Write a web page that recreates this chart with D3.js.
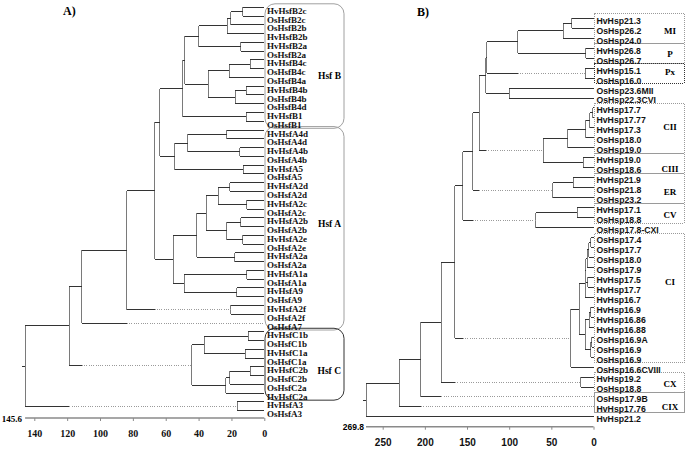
<!DOCTYPE html>
<html><head><meta charset="utf-8">
<script src="https://cdn.jsdelivr.net/npm/d3@7"></script>
<style>body{margin:0;background:#fff}svg{display:block}</style>
</head><body><svg id="c" width="689" height="449"></svg>
<script>
// ---------- Panel A: Hsf dendrogram (node = [height, child1, child2]) ----------
const hsfTree = [145.6,
  [118.7,
    [111.1,
      [83.7,
        [66.8,
          [63.5,
            [49.7,
              [48.3,
                [39.9,
                  [22.5, [20.5, [13.1, "HvHsfB2c", "OsHsfB2c"], "OsHsfB2b"], "HvHsfB2b"],
                  [14.4, "HvHsfB2a", "OsHsfB2a"]],
                [34.1,
                  [21.3, [8.7, "HvHsfB4c", "OsHsfB4c"], "OsHsfB4a"],
                  [17.8, [11.1, "HvHsfB4b", "OsHsfB4b"], "OsHsfB4d"]]],
              [11.1, "HvHsfB1", "OsHsfB1"]],
            [54.4,
              [46.6, [22.9, "HvHsfA4d", "OsHsfA4d"], [14.8, "HvHsfA4b", "OsHsfA4b"]],
              [12.8, "HvHsfA5", "OsHsfA5"]]],
          [55.4,
            [41,
              [35.3,
                [28, [20.9, "HvHsfA2d", "OsHsfA2d"], [10.7, "HvHsfA2c", "OsHsfA2c"]],
                [22.9, [14.4, "HvHsfA2b", "OsHsfA2b"], [13.1, "HvHsfA2e", "OsHsfA2e"]]],
              [18, "HvHsfA2a", "OsHsfA2a"]],
            [48.7, [10.7, "HvHsfA1a", "OsHsfA1a"], [16.8, "HvHsfA9", "OsHsfA9"]]]],
        [20.3, "HvHsfA2f", "OsHsfA2f"]],
      "OsHsfA7"],
    [44.2,
      [36.7, [9.7, "HvHsfC1b", "OsHsfC1b"], [11.7, "HvHsfC1a", "OsHsfC1a"]],
      [23.5, [20.9, [8.7, "HvHsfC2b", "OsHsfC2b"], "OsHsfC2a"], "HvHsfC2a"]]],
  [16.4, "HvHsfA3", "OsHsfA3"]];
// branches drawn dotted beyond the sibling's height: [first leaf, last leaf]
const hsfDotted = [["HvHsfA2f", "OsHsfA2f"], ["OsHsfA7", "OsHsfA7"], ["HvHsfC1b", "HvHsfC2a"], ["HvHsfA3", "OsHsfA3"]];
// groups: [label, first leaf index, last leaf index, label row]
const hsfGroups = [["Hsf B", 0, 13, 7.45], ["Hsf A", 14, 36, 24.3], ["Hsf C", 37, 44, 41.1]];
const hsfTicks = [0, 20, 40, 60, 80, 100, 120, 140];
const hsfMax = 145.6;

// ---------- Panel B: Hsp dendrogram ----------
const hspTree = [269.8,
  [230.4,
    [204.6,
      [180.5,
        [164.3,
          [155.2,
            [143.3,
              [135.5,
                [127.5,
                  [126.8,
                    [89.9,
                      [35.8, [25.9, "HvHsp21.3", "OsHsp26.2"], "OsHsp24.0"],
                      [9.3, "HvHsp26.8", "OsHsp26.7"]],
                    [10, "HvHsp15.1", "OsHsp16.0"]],
                  [99.9, "OsHsp23.6MII", "OsHsp22.3CVI"]],
                [59.5,
                  [30.6, [9.3, [4.2, [1.0, "HvHsp17.7", "HvHsp17.77"], "HvHsp17.3"], "OsHsp18.0"], "OsHsp19.0"],
                  [12.1, "HvHsp19.0", "OsHsp18.6"]]],
              [48.4, [24, "HvHsp21.9", "OsHsp21.8"], "OsHsp23.2"]],
            [68.2, [19.2, "HvHsp17.1", "OsHsp18.8"], "OsHsp17.8-CXI"]],
          [26.7,
            [16.8,
              [10, [9, [7.5, [5.5, [3, "OsHsp17.4", "OsHsp17.7"], "OsHsp18.0"], "OsHsp17.9"], [6.9, "HvHsp17.5", "HvHsp17.7"]], "HvHsp16.7"],
              [9.5, [5, [3.5, "HvHsp16.9", "HvHsp16.86"], "HvHsp16.88"], [3, [2, "OsHsp16.9A", "OsHsp16.9"], "OsHsp16.9"]]],
            "OsHsp16.6CVIII"]],
        [15.2, "HvHsp19.2", "OsHsp18.8"]],
      "OsHsp17.9B"],
    "HvHsp17.76"],
  "HvHsp21.2"];
const hspDotted = [["HvHsp15.1", "OsHsp16.0"], ["HvHsp17.7", "OsHsp18.6"], ["HvHsp21.9", "OsHsp23.2"],
  ["HvHsp17.1", "OsHsp17.8-CXI"], ["OsHsp17.4", "OsHsp16.6CVIII"], ["HvHsp19.2", "OsHsp18.8"],
  ["OsHsp17.9B", "OsHsp17.9B"], ["HvHsp17.76", "HvHsp17.76"]];
const hspGroups = [["MI", 0, 2, 1], ["P", 3, 4, 3.3], ["Px", 5, 6, 5.1], ["CII", 9, 13, 10.7], ["CIII", 14, 15, 14.9],
  ["ER", 16, 18, 17.2], ["CV", 19, 20, 19.5], ["CI", 22, 34, 26.2], ["CX", 36, 37, 36.4], ["CIX", 38, 39, 38.75]];
const hspTicks = [0, 50, 100, 150, 200, 250];
const hspMax = 269.8;

const svg = d3.select("#c");
const SERIF = "'Liberation Serif','Times New Roman',serif";
const SANS = "'Liberation Sans',Arial,sans-serif";

function layout(tree, x, y) {
  const root = d3.hierarchy(tree, d => Array.isArray(d) ? d.slice(1) : null);
  root.leaves().forEach((l, i) => { l.idx = i; });
  root.eachAfter(d => {
    if (d.children) {
      d.h = d.data[0];
      const a = d.children[0], b = d.children[d.children.length - 1];
      d.py = (a.py + b.py) / 2;
      d.fn = a.fn; d.ln = b.ln;
    } else {
      d.h = 0; d.py = y(d.idx); d.fn = d.ln = d.data;
    }
    d.px = x(d.h);
  });
  return root;
}

function drawTree(g, root, x, dotted) {
  const segs = [];
  const isDot = d => dotted.some(p => p[0] === d.fn && p[1] === d.ln);
  root.each(d => {
    if (d.children) {
      const a = d.children[0], b = d.children[d.children.length - 1];
      segs.push({x1: d.px, y1: a.py, x2: d.px, y2: b.py, t: "v"});
    }
    if (d.parent) {
      const p = d.parent;
      if (isDot(d)) {
        const sib = p.children.find(c => c !== d);
        segs.push({x1: p.px, y1: d.py, x2: sib.px, y2: d.py, t: "h"});
        segs.push({x1: sib.px, y1: d.py, x2: d.px, y2: d.py, t: "d"});
      } else {
        segs.push({x1: p.px, y1: d.py, x2: d.px, y2: d.py, t: "h"});
      }
    }
  });
  segs.push({x1: root.px - 3, y1: root.py, x2: root.px, y2: root.py, t: "h"});
  g.selectAll("line.br").data(segs).join("line").attr("class", "br")
    .attr("x1", d => d.x1).attr("y1", d => d.y1).attr("x2", d => d.x2).attr("y2", d => d.y2)
    .attr("stroke", d => d.t === "v" ? "#7a7a7a" : d.t === "d" ? "#9a9a9a" : "#333")
    .attr("stroke-width", 1)
    .attr("stroke-dasharray", d => d.t === "d" ? "1,1.3" : null)
    .attr("shape-rendering", "crispEdges");
}

// ================= Panel A =================
{
  const x = d3.scaleLinear().domain([0, 140]).range([264.3, 34.3]);
  const y = d3.scaleLinear().domain([0, 46]).range([7.3, 410.7]);
  const g = svg.append("g");
  const root = layout(hsfTree, x, y);

  // group boxes
  g.selectAll("rect.grp").data(hsfGroups).join("rect").attr("class", "grp")
    .attr("x", 265).attr("width", 79)
    .attr("y", d => y(d[1]) - 3.5).attr("height", d => y(d[2]) - y(d[1]) + 10.5)
    .attr("rx", 10).attr("ry", 10).attr("fill", "none")
    .attr("stroke", d => d[0] === "Hsf C" ? "#333" : "#a0a0a0").attr("stroke-width", 1);
  g.selectAll("text.gl").data(hsfGroups).join("text").attr("class", "gl")
    .attr("x", 341).attr("y", d => y(d[3]) + 3.4).attr("dy", "0.35em")
    .attr("text-anchor", "end").attr("font-family", SERIF).attr("font-weight", "bold")
    .attr("font-size", 9.5).text(d => d[0]);

  drawTree(g, root, x, hsfDotted);

  g.selectAll("text.leaf").data(root.leaves()).join("text").attr("class", "leaf")
    .attr("x", 267).attr("y", d => d.py + 3.4).attr("dy", "0.35em")
    .attr("font-family", SERIF).attr("font-weight", "bold").attr("font-size", 9).attr("fill", "#111")
    .text(d => d.data);

  const ax = g.append("g").attr("transform", "translate(0,418)")
    .call(d3.axisBottom(x).tickValues(hsfTicks).tickSize(3).tickPadding(9));
  ax.select(".domain").attr("d", `M${x(hsfMax)},0H${x(0)}`).attr("stroke", "#8a8a8a").attr("stroke-width", 1.5);
  ax.selectAll(".tick line").attr("stroke", "#8a8a8a");
  ax.selectAll(".tick text").attr("font-family", SERIF).attr("font-weight", "bold").attr("font-size", 10).attr("fill", "#111");
  g.append("text").attr("x", 22).attr("y", 419).attr("dy", "0.35em").attr("text-anchor", "end")
    .attr("font-family", SERIF).attr("font-weight", "bold").attr("font-size", 9).text(hsfMax);
  g.append("text").attr("x", 63).attr("y", 11).attr("dy", "0.35em")
    .attr("font-family", SERIF).attr("font-weight", "bold").attr("font-size", 12).text("A)");
}

// ================= Panel B =================
{
  const x = d3.scaleLinear().domain([0, 250]).range([593.5, 382.7]);
  const y = d3.scaleLinear().domain([0, 40]).range([18.3, 416.9]);
  const g = svg.append("g");
  const root = layout(hspTree, x, y);

  const boxStroke = d => d[0] === "Px" ? "#333" : "#9a9a9a";
  g.selectAll("rect.grp").data(hspGroups).join("rect").attr("class", "grp")
    .attr("x", 594.5).attr("width", 89.5)
    .attr("y", d => y(d[1]) - 4.5).attr("height", d => y(d[2]) - y(d[1]) + 10)
    .attr("fill", "none").attr("stroke", boxStroke).attr("stroke-width", 1)
    .attr("stroke-dasharray", d => d[0] === "CIX" ? null : "1,1")
    .attr("shape-rendering", "crispEdges");
  g.selectAll("text.gl").data(hspGroups).join("text").attr("class", "gl")
    .attr("x", 670).attr("y", d => y(d[3]) + 2.4).attr("dy", "0.35em")
    .attr("text-anchor", "middle").attr("font-family", SERIF).attr("font-weight", "bold")
    .attr("font-size", 9).text(d => d[0]);

  drawTree(g, root, x, hspDotted);

  g.selectAll("text.leaf").data(root.leaves()).join("text").attr("class", "leaf")
    .attr("x", 596.5).attr("y", d => d.py + 2.4).attr("dy", "0.35em")
    .attr("font-family", SANS).attr("font-weight", "bold").attr("font-size", 8.7).attr("fill", "#111")
    .text(d => d.data);

  const ax = g.append("g").attr("transform", "translate(0,426.7)")
    .call(d3.axisBottom(x).tickValues(hspTicks).tickSize(3).tickPadding(9.5));
  ax.select(".domain").attr("d", `M${x(hspMax)},0H${x(0)}`).attr("stroke", "#8a8a8a").attr("stroke-width", 1.5);
  ax.selectAll(".tick line").attr("stroke", "#8a8a8a");
  ax.selectAll(".tick text").attr("font-family", SANS).attr("font-weight", "bold").attr("font-size", 10).attr("fill", "#111");
  g.append("text").attr("x", 364).attr("y", 426.7).attr("dy", "0.35em").attr("text-anchor", "end")
    .attr("font-family", SANS).attr("font-weight", "bold").attr("font-size", 8.5).text(hspMax);
  g.append("text").attr("x", 417).attr("y", 12).attr("dy", "0.35em")
    .attr("font-family", SERIF).attr("font-weight", "bold").attr("font-size", 12).text("B)");
}
</script></body></html>
